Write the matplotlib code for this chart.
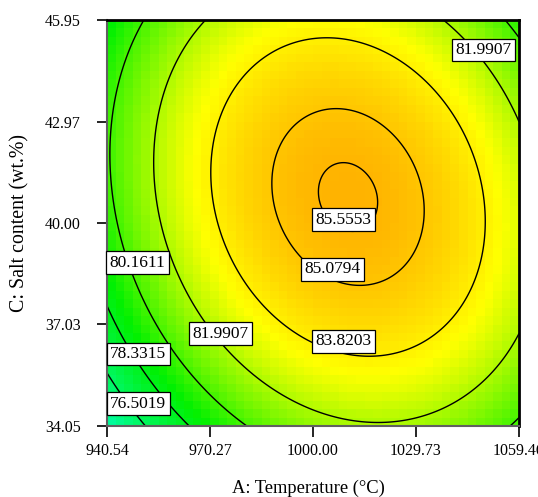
import numpy as np
import matplotlib
matplotlib.use("Agg")
import matplotlib.pyplot as plt
from matplotlib.colors import LinearSegmentedColormap, Normalize

# ---- data ----
temp_range = [940.54, 1059.46]          # A: Temperature (°C)
salt_range = [34.05, 45.95]             # C: Salt content (wt.%)
x_ticks = [940.54, 970.27, 1000.00, 1029.73, 1059.46]
x_ticklabels = ["940.54", "970.27", "1000.00", "1029.73", "1059.46"]
y_ticks = [34.05, 37.03, 40.00, 42.97, 45.95]
y_ticklabels = ["34.05", "37.03", "40.00", "42.97", "45.95"]

# quadratic response-surface model in coded units (estimated from the contours)
# y = b0 + b1*A + b2*C + b12*A*C + b11*A^2 + b22*C^2
model_coefs = {"b0": 85.445, "b1": 1.569, "b2": 0.963,
               "b12": -1.10, "b11": -4.20, "b22": -3.03}

contour_levels = [76.5019, 78.3315, 80.1611, 81.9907, 83.8203, 85.0794, 85.5553]
label_texts = ["81.9907", "85.5553", "85.0794", "83.8203", "81.9907",
               "80.1611", "78.3315", "76.5019"]
label_T = [1049.1, 1008.8, 1005.6, 1008.8, 973.4, 949.4, 949.5, 949.5]
label_S = [45.07, 40.09, 38.65, 36.53, 36.75, 38.83, 36.16, 34.70]

# colour scale anchors (response value -> colour)
cmap_values = [73.5, 79.0, 83.4, 86.2]
cmap_colors = ["#00ffd0", "#00f000", "#ffff00", "#ffa000"]


def response(T, S):
    a = (T - 1000.0) / 59.46
    c = (S - 40.0) / 5.95
    k = model_coefs
    return (k["b0"] + k["b1"] * a + k["b2"] * c + k["b12"] * a * c
            + k["b11"] * a ** 2 + k["b22"] * c ** 2)


plt.rcParams["font.family"] = ["Liberation Serif", "DejaVu Serif"]
fig = plt.figure(figsize=(5.38, 4.97), dpi=100)
ax = fig.add_axes([107 / 538, 1 - 426 / 497, 412 / 538, 406 / 497])

vmin, vmax = cmap_values[0], cmap_values[-1]
pos = [(v - vmin) / (vmax - vmin) for v in cmap_values]
cmap = LinearSegmentedColormap.from_list("de", list(zip(pos, cmap_colors)))
norm = Normalize(vmin, vmax)

# coarse cells (blocky shading)
ncell = 48
te = np.linspace(*temp_range, ncell + 1)
se = np.linspace(*salt_range, ncell + 1)
tc = 0.5 * (te[:-1] + te[1:])
sc = 0.5 * (se[:-1] + se[1:])
TC, SC = np.meshgrid(tc, sc)
ax.pcolormesh(te, se, response(TC, SC), cmap=cmap, norm=norm,
              shading="flat", antialiased=True, rasterized=True)

# smooth contour lines
tf = np.linspace(*temp_range, 300)
sf = np.linspace(*salt_range, 300)
TF, SF = np.meshgrid(tf, sf)
ax.contour(TF, SF, response(TF, SF), levels=contour_levels,
           colors="black", linewidths=1.0)

for txt, t, s in zip(label_texts, label_T, label_S):
    ax.text(t, s, txt, ha="center", va="center", fontsize=12.5, zorder=5,
            bbox=dict(boxstyle="square,pad=0.2", fc="white", ec="black", lw=0.9))

ax.set_xlim(*temp_range)
ax.set_ylim(*salt_range)
ax.set_xticks(x_ticks)
ax.set_xticklabels(x_ticklabels)
ax.set_yticks(y_ticks)
ax.set_yticklabels(y_ticklabels)
ax.tick_params(axis="x", direction="out", length=8, width=1.2, pad=4.5, labelsize=11.5)
ax.tick_params(axis="y", direction="out", length=7, width=1.2, pad=12, labelsize=11.5)
for side in ["top", "right"]:
    ax.spines[side].set_linewidth(2.0)
    ax.spines[side].set_color("black")
for side in ["left", "bottom"]:
    ax.spines[side].set_linewidth(1.5)
    ax.spines[side].set_color("#606060")

ax.set_xlabel("A: Temperature (°C)", fontsize=13.3, va="center")
ax.xaxis.set_label_coords((308 - 107) / 412, (426 - 488) / 406)
ax.set_ylabel("C: Salt content (wt.%)", fontsize=14.3, va="center")
ax.yaxis.set_label_coords((20 - 107) / 412, 0.5)

fig.savefig("out.png", dpi=100)
